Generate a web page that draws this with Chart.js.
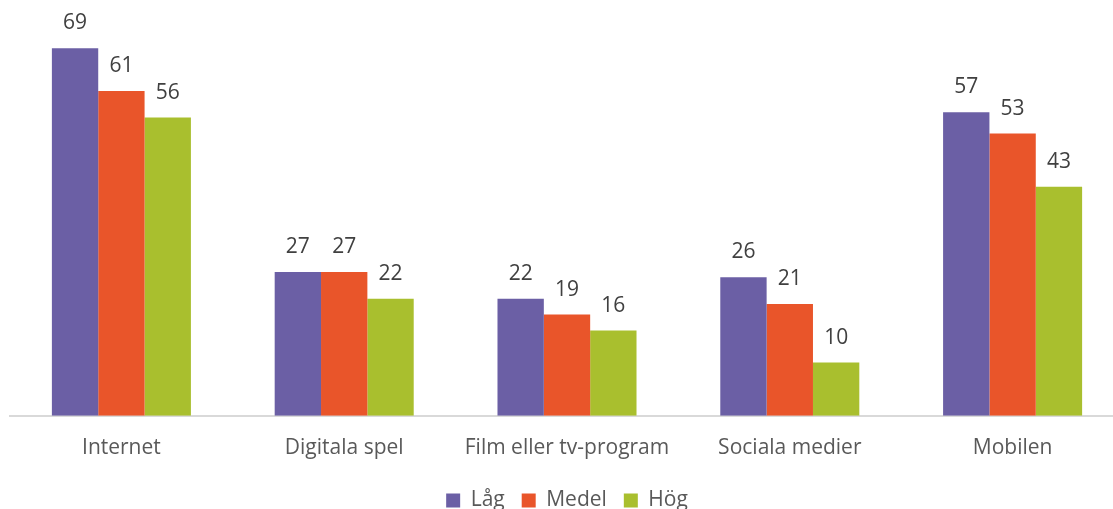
<!DOCTYPE html>
<html>
<head>
<meta charset="utf-8">
<script src="https://cdn.jsdelivr.net/npm/chart.js@4"></script>
<style>
  html,body{margin:0;padding:0;background:#fff;overflow:hidden;}
  #wrap{position:relative;width:1134px;height:521px;}
</style>
</head>
<body>
<div id="wrap"><canvas id="chartGrafik"></canvas></div>
<script>
// ================= DATA =================
const kategorier = ["Internet","Digitala spel","Film eller tv-program","Sociala medier","Mobilen"];
const lag   = [69,27,22,26,57];
const medel = [61,27,19,21,53];
const hog   = [56,22,16,10,43];

const serier = [
  { label:"Låg",   data:lag,   color:"#6b5fa5" },
  { label:"Medel", data:medel, color:"#e9552a" },
  { label:"Hög",   data:hog,   color:"#a9bf2e" }
];

const FONT = "'Open Sans', sans-serif";

// värden ovanför staplarna
const vardeEtiketter = {
  id:"vardeEtiketter",
  afterDatasetsDraw(chart){
    const c = chart.ctx;
    c.save();
    c.font = "21px " + FONT;
    c.fillStyle = "#404040";
    c.textAlign = "center";
    c.textBaseline = "middle";
    chart.data.datasets.forEach((ds,i)=>{
      chart.getDatasetMeta(i).data.forEach((bar,j)=>{
        c.fillText(ds.data[j], bar.x, bar.y - 25);
      });
    });
    c.restore();
  }
};

const ctx = document.getElementById("chartGrafik").getContext("2d");
new Chart(ctx,{
  type:"bar",
  data:{
    labels:kategorier,
    datasets:serier.map(s=>({
      label:s.label,
      data:s.data,
      backgroundColor:s.color,
      categoryPercentage:0.624,
      barPercentage:1
    }))
  },
  options:{
    responsive:true,
    maintainAspectRatio:false,
    animation:false,
    layout:{ padding:{ left:10, right:10, top:43, bottom:0 } },
    plugins:{
      legend:{
        position:"bottom",
        labels:{
          font:{ family:FONT, size:21 },
          color:"#595959",
          boxWidth:14,
          boxHeight:14,
          padding:17
        }
      },
      tooltip:{ enabled:false }
    },
    scales:{
      x:{
        grid:{ display:false },
        border:{ color:"#d9d9d9", width:2 },
        ticks:{ font:{ family:FONT, size:21 }, color:"#595959", padding:12 }
      },
      y:{
        display:false,
        min:0,
        max:70
      }
    }
  },
  plugins:[vardeEtiketter]
});
</script>
</body>
</html>
